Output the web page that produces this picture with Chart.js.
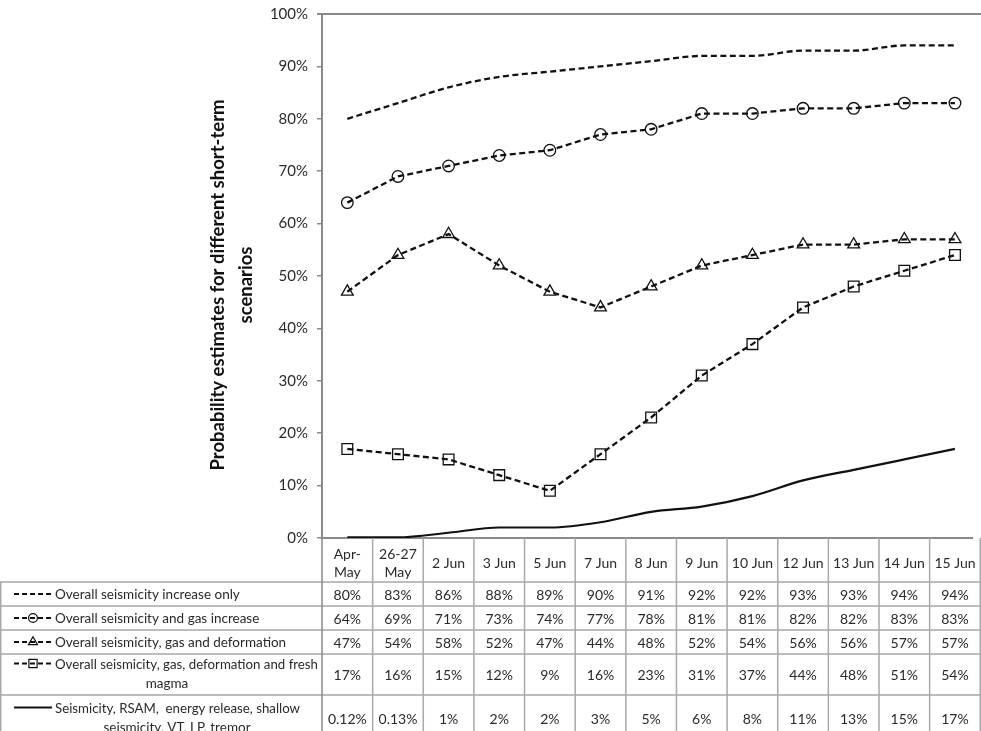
<!DOCTYPE html>
<html>
<head>
<meta charset="utf-8">
<script src="https://cdn.jsdelivr.net/npm/chart.js@4/dist/chart.umd.min.js"></script>
<style>
  html, body { margin: 0; padding: 0; background: #fff; overflow: hidden; }
  #wrap { position: relative; width: 981px; height: 731px; overflow: hidden; }
  canvas { display: block; }
</style>
</head>
<body>
<div id="wrap"><canvas id="chart" width="981" height="731"></canvas></div>
<script>
// Observation periods (column headers of the data table)
const periods = [['Apr-', 'May'], ['26-27', 'May'], '2 Jun', '3 Jun', '5 Jun', '7 Jun',
  '8 Jun', '9 Jun', '10 Jun', '12 Jun', '13 Jun', '14 Jun', '15 Jun'];

// Probability estimates (%) for each short-term scenario
const seismicityOnly = [80, 83, 86, 88, 89, 90, 91, 92, 92, 93, 93, 94, 94];
const seismicityGas = [64, 69, 71, 73, 74, 77, 78, 81, 81, 82, 82, 83, 83];
const seismicityGasDeformation = [47, 54, 58, 52, 47, 44, 48, 52, 54, 56, 56, 57, 57];
const freshMagma = [17, 16, 15, 12, 9, 16, 23, 31, 37, 44, 48, 51, 54];
const monitoringSignals = [0.12, 0.13, 1, 2, 2, 3, 5, 6, 8, 11, 13, 15, 17];

// Scenario names as printed in the table (one entry per text line)
const scenarioNames = [
  ['Overall seismicity increase only'],
  ['Overall seismicity and gas increase'],
  ['Overall seismicity, gas and deformation'],
  ['Overall seismicity, gas, deformation and fresh', 'magma'],
  ['Seismicity, RSAM,  energy release, shallow', 'seismicity, VT, LP, tremor']
];

const yTickValues = [0, 10, 20, 30, 40, 50, 60, 70, 80, 90, 100];
const yTitleLines = ['Probability estimates for different short-term', 'scenarios'];

const FONT = 'Lato, "Open Sans", sans-serif';
const INK = '#111';
const TEXT = '#2a2a2a';
const RULE = '#a8a8a8';
const AXIS = '#8a8a8a';

// Layout: the last table column runs past the right edge of the page
const plotLeft = 322;
const columnWidth = 51.33;
const visibleColumns = (981 - plotLeft) / columnWidth;

// Table geometry (pixels below the plot): header height and body row heights
const headerHeight = 44;
const rowHeights = [24, 24, 24, 41, 46];
const tableLeft = 0;
const nameLeft = 55;
const nameRight = 318;

const seriesList = [
  { data: seismicityOnly, marker: false, dashed: true, smooth: true },
  { data: seismicityGas, marker: 'circle', dashed: true },
  { data: seismicityGasDeformation, marker: 'triangle', dashed: true },
  { data: freshMagma, marker: 'rect', dashed: true },
  { data: monitoringSignals, marker: false, dashed: false, smooth: true }
];

const markerRadius = { circle: 5.8, triangle: 6.8, rect: 7.6 };

function fmt(v) { return v + '%'; }

const datasets = seriesList.map((s, i) => ({
  label: scenarioNames[i].join(' '),
  data: s.data.map((v, k) => ({ x: k, y: v })),
  borderColor: INK,
  borderWidth: s.dashed ? 2.3 : 2.2,
  borderDash: s.dashed ? [6, 3.5] : [],
  cubicInterpolationMode: s.smooth ? 'monotone' : 'default',
  tension: 0,
  pointStyle: s.marker || 'circle',
  pointRadius: s.marker ? markerRadius[s.marker] : 0,
  pointBorderColor: INK,
  pointBorderWidth: 1.3,
  pointBackgroundColor: 'rgba(0,0,0,0)',
  fill: false
}));

function drawKey(ctx, x0, x1, y, s) {
  ctx.save();
  ctx.strokeStyle = INK;
  ctx.lineWidth = 1.8;
  ctx.setLineDash(s.dashed ? [5, 3] : []);
  ctx.beginPath();
  ctx.moveTo(x0, y);
  ctx.lineTo(x1, y);
  ctx.stroke();
  ctx.setLineDash([]);
  if (s.marker) {
    const r = { circle: 4.4, triangle: 5.2, rect: 5.8 }[s.marker];
    ctx.fillStyle = 'rgba(0,0,0,0)';
    ctx.lineWidth = 1.2;
    Chart.helpers.drawPoint(ctx, { pointStyle: s.marker, radius: r, rotation: 0, borderWidth: 1.2 }, (x0 + x1) / 2, y);
  }
  ctx.restore();
}

const tablePlugin = {
  id: 'dataTable',
  afterDraw(chart) {
    const ctx = chart.ctx;
    const area = chart.chartArea;
    const xs = chart.scales.x;
    const n = periods.length;
    const top = area.bottom;

    // plot frame top edge
    ctx.save();
    ctx.strokeStyle = AXIS;
    ctx.lineWidth = 2;
    ctx.beginPath();
    ctx.moveTo(area.left - 5, area.top);
    ctx.lineTo(chart.width, area.top);
    ctx.stroke();
    ctx.restore();

    // row boundaries
    const rowTops = [];
    let y = top + headerHeight;
    for (const h of rowHeights) { rowTops.push(y); y += h; }
    const tableBottom = y;

    ctx.save();
    ctx.strokeStyle = RULE;
    ctx.lineWidth = 1.5;
    ctx.beginPath();
    for (const ry of rowTops) { ctx.moveTo(tableLeft, ry); ctx.lineTo(chart.width, ry); }
    ctx.moveTo(tableLeft + 0.75, rowTops[0]); ctx.lineTo(tableLeft + 0.75, tableBottom);
    for (let i = 0; i < n; i++) {
      const x = xs.getPixelForValue(i + 0.5);
      ctx.moveTo(x, top); ctx.lineTo(x, tableBottom);
    }
    ctx.stroke();
    ctx.strokeStyle = AXIS;
    ctx.beginPath();
    ctx.moveTo(area.left, top); ctx.lineTo(area.left, tableBottom);
    ctx.stroke();
    ctx.restore();

    // values and scenario names
    ctx.save();
    ctx.fillStyle = TEXT;
    ctx.textBaseline = 'middle';
    seriesList.forEach((s, r) => {
      const ry = rowTops[r];
      const cy = ry + rowHeights[r] / 2;
      ctx.font = '14px ' + FONT;
      ctx.textAlign = 'center';
      s.data.forEach((v, i) => {
        ctx.fillText(fmt(v), xs.getPixelForValue(i), cy + 1);
      });
      ctx.font = '13.5px ' + FONT;
      const lines = scenarioNames[r];
      if (lines.length === 1) {
        drawKey(ctx, 14, 52, cy, s);
        ctx.textAlign = 'left';
        ctx.fillText(lines[0], nameLeft, cy + 1, nameRight - nameLeft);
      } else {
        const y1 = ry + (r === 3 ? 9.5 : 12.5);
        const y2 = y1 + 19;
        drawKey(ctx, 14, 52, y1, s);
        ctx.textAlign = 'left';
        const maxW = r === 3 ? nameRight - nameLeft : 300 - nameLeft;
        ctx.fillText(lines[0], nameLeft, y1 + 1, maxW);
        ctx.textAlign = 'center';
        ctx.fillText(lines[1], r === 3 ? 167 : 177, y2 + 1);
      }
    });
    ctx.restore();

    // vertical axis title
    ctx.save();
    ctx.fillStyle = INK;
    ctx.font = 'bold 18.5px ' + FONT;
    ctx.textAlign = 'center';
    ctx.textBaseline = 'middle';
    ctx.translate(218, 285);
    ctx.rotate(-Math.PI / 2);
    yTitleLines.forEach((t, i) => ctx.fillText(t, 0, i * 28));
    ctx.restore();
  }
};

new Chart(document.getElementById('chart'), {
  type: 'line',
  data: { datasets },
  options: {
    responsive: false,
    animation: false,
    devicePixelRatio: 1,
    layout: { padding: { top: 14, right: 0, bottom: 0, left: 0 } },
    plugins: { legend: { display: false }, tooltip: { enabled: false } },
    scales: {
      x: {
        type: 'linear',
        min: -0.5,
        max: -0.5 + visibleColumns,
        afterBuildTicks(scale) { scale.ticks = periods.map((_, i) => ({ value: i })); },
        grid: { display: false, drawTicks: false },
        border: { display: true, color: AXIS, width: 2 },
        ticks: {
          autoSkip: false, maxRotation: 0, minRotation: 0, crossAlign: 'center', padding: 16,
          color: TEXT, font: { family: FONT, size: 14, lineHeight: 1.3 },
          callback: v => periods[v]
        },
        afterFit(scale) {
          scale.height = 731 - 538;
          scale.paddingLeft = 0;
          scale.paddingRight = 0;
        }
      },
      y: {
        min: 0, max: 100,
        afterBuildTicks(scale) { scale.ticks = yTickValues.map(v => ({ value: v })); },
        grid: { drawOnChartArea: false, drawTicks: true, tickLength: 5, color: AXIS, lineWidth: 1.5 },
        border: { display: true, color: AXIS, width: 2 },
        ticks: {
          padding: 9, color: TEXT, font: { family: FONT, size: 15 },
          callback: v => fmt(v)
        },
        afterFit(scale) {
          scale.width = plotLeft;
          scale.paddingTop = 0;
          scale.paddingBottom = 0;
        }
      }
    }
  },
  plugins: [tablePlugin]
});
</script>
</body>
</html>
